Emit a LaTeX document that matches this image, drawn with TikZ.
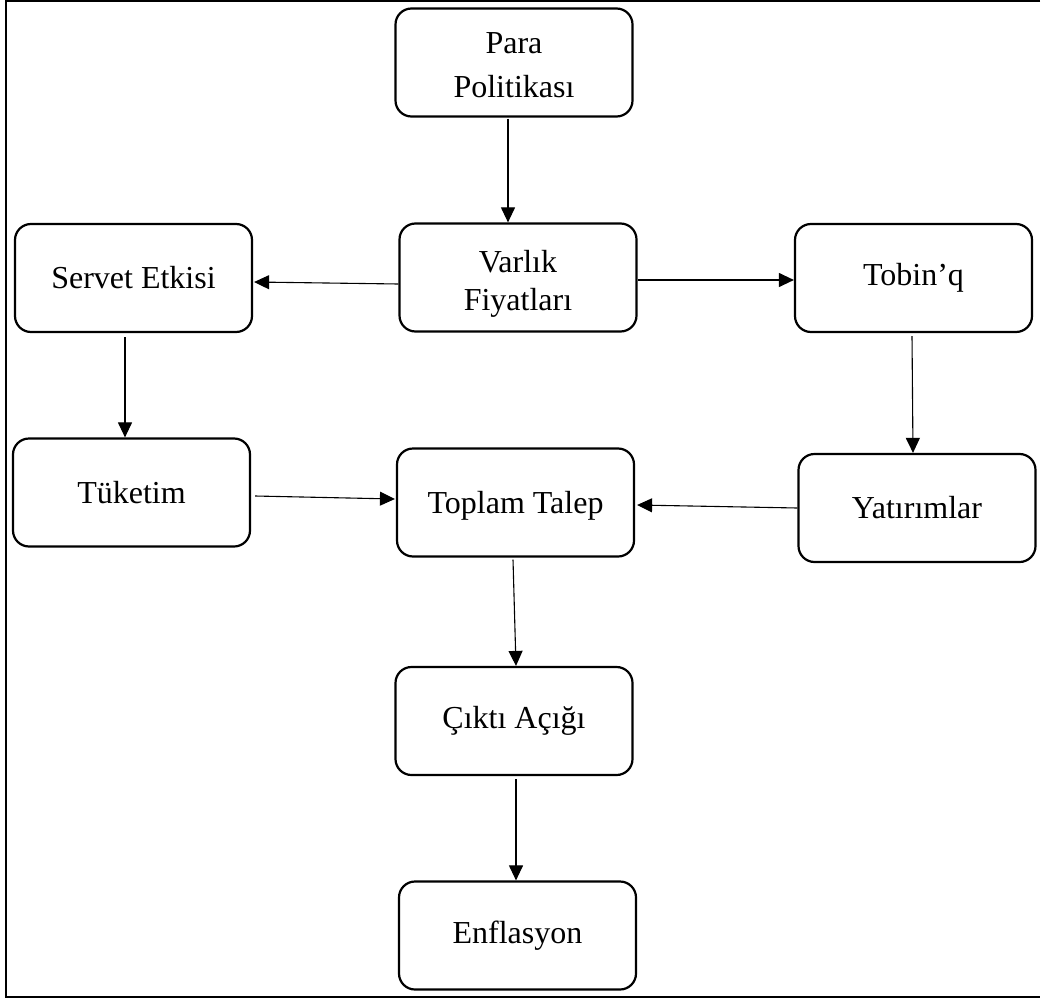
\documentclass[tikz,border=0pt]{standalone}
\usepackage{fontspec}
\setmainfont{Liberation Serif}
\usetikzlibrary{arrows.meta,calc}

% lower a line of text without changing its reported size
\newcommand\sinkline[2]{\raisebox{-#1}[\height][\depth]{#2}}

\tikzset{
  stage/.style={draw=black, line width=2.2pt, rounded corners=16pt,
    minimum width=237pt, minimum height=108pt, inner sep=0pt,
    align=center, font=\fontsize{32}{38}\selectfont},
  link/.style={draw=black, line width=1.1pt,
    -{Triangle[length=15pt,width=14pt]}},
  frameline/.style={draw=black, line width=2pt}
}

\begin{document}
\begin{tikzpicture}[x=1pt,y=-1pt]
  \useasboundingbox (0,0) rectangle (1041,998);

  % open frame: left, top and bottom edges
  \draw[frameline] (1040,1.5) -- (6.3,1.5) -- (6.3,997) -- (1040,997);

  % transmission stages
  \node[stage] (para)   at (514,62.5)
    {\sinkline{3pt}{Para}\\[6pt]\sinkline{3pt}{Politikası}};
  \node[stage] (varlik) at (518,277.5)
    {\sinkline{6pt}{Varlık}\\\sinkline{6pt}{Fiyatları}};
  \node[stage] (servet) at (133.5,278)  {Servet Etkisi};
  \node[stage] (tobin)  at (913.5,278)  {Tobin’q};
  \node[stage] (tuketim) at (131.5,492.5) {Tüketim};
  \node[stage] (toplam) at (515.5,502.5) {\sinkline{3pt}{Toplam Talep}};
  \node[stage] (yatirim) at (917,508)   {Yatırımlar};
  \node[stage] (cikti)  at (514,721)    {Çıktı Açığı};
  \node[stage] (enf)    at (517.5,935.5) {Enflasyon};

  % transmission links
  \draw[link] ($(para.south)+(-6,1)$) -- ($(varlik.north)+(-10,0)$);
  \draw[link] ($(varlik.west)+(0,6.5)$) -- ($(servet.east)+(1,4)$);
  \draw[link] ($(varlik.east)+(0,2.5)$) -- ($(tobin.west)+(0,2)$);
  \draw[link] ($(servet.south)+(-8.5,4)$) -- ($(tuketim.north)+(-6.5,0)$);
  \draw[link] ($(tobin.south)+(-1.5,3)$) -- ($(yatirim.north)+(-4,0)$);
  \draw[link] ($(tuketim.east)+(4,3.5)$) -- ($(toplam.west)+(-1,-3.5)$);
  \draw[link] (yatirim.west) -- ($(toplam.east)+(2,2.5)$);
  \draw[link] ($(toplam.south)+(-2.5,2)$) -- ($(cikti.north)+(2,0)$);
  \draw[link] ($(cikti.south)+(2,3)$) -- ($(enf.north)+(-1.5,0)$);
\end{tikzpicture}
\end{document}
